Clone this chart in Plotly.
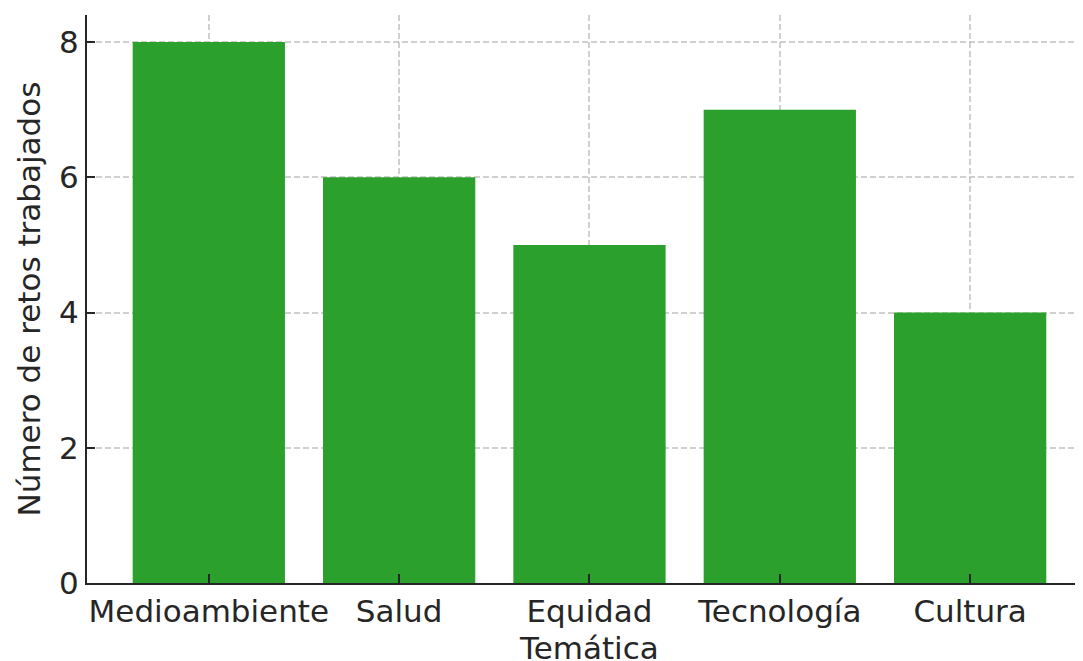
import plotly.graph_objects as go

categories = ["Medioambiente", "Salud", "Equidad", "Tecnología", "Cultura"]
values = [8, 6, 5, 7, 4]
y_ticks = [0, 2, 4, 6, 8]
x_title = "Temática"
y_title = "Número de retos trabajados"

FONT = "DejaVu Sans"
TXT = "#262626"
FS = 31
GRID = "rgba(176,176,176,0.6)"

fig = go.Figure(
    go.Bar(
        x=list(range(len(categories))),
        y=values,
        width=0.8,
        marker=dict(color="#2ca02c", line=dict(width=0)),
    )
)

fig.update_layout(
    width=1075,
    height=661,
    margin=dict(l=79, r=0, t=7, b=86),
    paper_bgcolor="white",
    plot_bgcolor="white",
    font=dict(family=FONT, size=FS, color=TXT),
    showlegend=False,
)

fig.update_xaxes(
    range=[-0.64, 4.593],
    tickmode="array",
    tickvals=list(range(len(categories))),
    ticktext=categories,
    showgrid=True,
    gridcolor=GRID,
    griddash="6px,3px",
    gridwidth=1.5,
    showline=True,
    linecolor=TXT,
    linewidth=2,
    ticks="inside",
    ticklen=9,
    tickwidth=2,
    tickcolor=TXT,
    ticklabelstandoff=0,
    zeroline=False,
    automargin=False,
    layer="above traces",
)

fig.add_annotation(
    text=x_title,
    xref="x",
    x=2,
    yref="paper",
    y=-0.1144,
    yanchor="middle",
    xanchor="center",
    showarrow=False,
    font=dict(family=FONT, size=FS, color=TXT),
)

fig.update_yaxes(
    range=[0, 8.4],
    tickmode="array",
    tickvals=y_ticks,
    ticktext=[str(v) for v in y_ticks],
    showgrid=True,
    gridcolor=GRID,
    griddash="6px,3px",
    gridwidth=1.5,
    showline=True,
    linecolor=TXT,
    linewidth=2,
    ticks="inside",
    ticklen=8,
    tickwidth=2,
    tickcolor=TXT,
    ticklabelstandoff=0,
    zeroline=False,
    automargin=False,
    layer="above traces",
    title=dict(text=y_title, standoff=9, font=dict(size=FS, color=TXT)),
)

fig.write_html("out.html")
